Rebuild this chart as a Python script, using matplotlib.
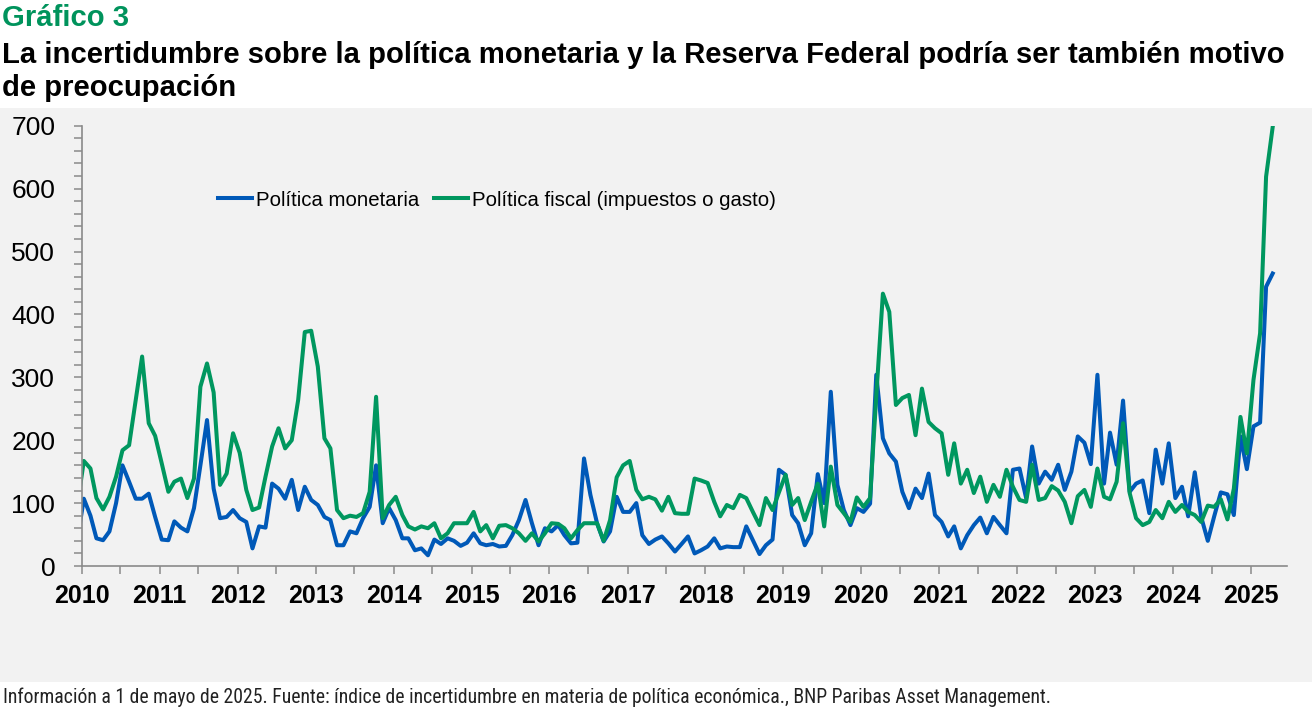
import matplotlib
matplotlib.use("Agg")
import matplotlib.pyplot as plt
import matplotlib.dates as mdates
from matplotlib import font_manager
from matplotlib.ticker import MultipleLocator
import pandas as pd

# ---------------- data (monthly, Dec 2009 - Apr 2025) ----------------
start_month = "2009-12-01"
politica_monetaria = [
    40,
    107, 80, 44, 41, 55, 100, 160, 134, 107, 107, 115, 78,
    42, 41, 71, 61, 55, 92, 160, 232, 123, 76, 78, 89,
    76, 70, 28, 63, 61, 131, 123, 107, 137, 89, 126, 105,
    97, 78, 73, 33, 33, 55, 52, 76, 94, 160, 68, 92,
    73, 44, 44, 25, 28, 17, 42, 35, 44, 40, 32, 37,
    52, 36, 33, 35, 31, 32, 49, 73, 105, 68, 33, 60,
    55, 65, 49, 36, 37, 171, 113, 68, 39, 55, 110, 86,
    86, 100, 49, 35, 42, 47, 36, 23, 35, 47, 20, 25,
    31, 44, 28, 31, 30, 30, 63, 41, 19, 33, 42, 153,
    145, 81, 68, 33, 52, 146, 100, 277, 129, 89, 65, 92,
    86, 99, 304, 203, 179, 166, 118, 92, 123, 108, 147, 81,
    70, 47, 63, 28, 49, 65, 77, 52, 78, 65, 52, 153,
    155, 108, 190, 131, 150, 137, 161, 121, 150, 206, 196, 162,
    304, 131, 212, 161, 263, 118, 131, 136, 84, 185, 131, 195,
    108, 126, 79, 149, 78, 40, 79, 117, 114, 81, 206, 154,
    222, 228, 444, 465,
]
politica_fiscal = [
    95,
    167, 155, 108, 90, 110, 142, 184, 192, 264, 333, 227, 207,
    163, 118, 134, 139, 108, 139, 285, 322, 276, 129, 147, 211,
    180, 121, 89, 93, 142, 190, 219, 187, 200, 264, 372, 374,
    317, 203, 187, 89, 76, 80, 78, 84, 118, 269, 76, 97,
    110, 81, 63, 58, 63, 60, 68, 44, 52, 68, 68, 68,
    86, 55, 65, 44, 64, 65, 60, 52, 40, 52, 39, 52,
    68, 67, 60, 44, 57, 68, 68, 68, 40, 73, 141, 160,
    167, 121, 106, 110, 106, 88, 110, 84, 83, 83, 139, 136,
    132, 102, 79, 97, 92, 113, 108, 86, 65, 108, 89, 117,
    145, 97, 108, 73, 102, 131, 63, 158, 97, 84, 70, 109,
    94, 108, 270, 433, 404, 256, 267, 272, 208, 282, 229, 219,
    211, 145, 195, 131, 153, 116, 142, 102, 129, 110, 153, 126,
    105, 102, 161, 105, 108, 127, 120, 102, 68, 111, 121, 94,
    155, 110, 106, 134, 227, 116, 76, 65, 70, 89, 76, 102,
    86, 97, 86, 81, 70, 96, 94, 106, 74, 123, 237, 179,
    296, 370, 619, 698,
]
series_labels = ["Política monetaria", "Política fiscal (impuestos o gasto)"]
y_ticks = [0, 100, 200, 300, 400, 500, 600, 700]

titulo_num = "Gráfico 3"
titulo = ["La incertidumbre sobre la política monetaria y la Reserva Federal podría ser también motivo",
          "de preocupación"]
fuente = ("Información a 1 de mayo de 2025. Fuente: índice de incertidumbre en materia de política "
          "económica., BNP Paribas Asset Management.")

dates = pd.date_range(start_month, periods=len(politica_monetaria), freq="MS") + pd.Timedelta(days=10)

# ---------------- fonts ----------------
available = {f.name for f in font_manager.fontManager.ttflist}
def pick(*names):
    for n in names:
        if n in available:
            return n
    return "DejaVu Sans"
f_main = pick("Liberation Sans", "Arial", "DejaVu Sans")
f_narrow = pick("Liberation Sans Narrow", "Roboto Condensed", "Liberation Sans")

BLUE = "#0059B8"
GREEN = "#00975F"
GREEN_T = "#00935C"
BG = "#F2F2F2"
AXC = "#8A8A8A"

W, H = 1312, 709
fig = plt.figure(figsize=(W / 100, H / 100), dpi=100)
fig.patch.set_facecolor("white")

# gray panel
fig.patches.append(plt.Rectangle((0, 1 - 682 / H), 1, (682 - 108) / H, transform=fig.transFigure,
                                 facecolor=BG, edgecolor="none", zorder=-5))

ax = fig.add_axes([81.7 / W, 1 - 566 / H, (1287 - 81.7) / W, (566 - 125.7) / H])
ax.set_facecolor("none")
ax.set_zorder(2)

ax.plot(dates, politica_monetaria, color=BLUE, lw=2.9, label=series_labels[0])
ax.plot(dates, politica_fiscal, color=GREEN, lw=2.9, label=series_labels[1])

ax.set_xlim(pd.Timestamp("2010-01-01"), pd.Timestamp("2025-06-17"))
ax.set_ylim(0, 700)

for s in ["top", "right"]:
    ax.spines[s].set_visible(False)
for s in ["left", "bottom"]:
    ax.spines[s].set_color(AXC)
    ax.spines[s].set_linewidth(1.2)

ax.set_yticks(y_ticks)
ax.yaxis.set_minor_locator(MultipleLocator(20))
ax.xaxis.set_major_locator(mdates.YearLocator())
ax.xaxis.set_minor_locator(mdates.MonthLocator(bymonth=[7]))
ax.xaxis.set_major_formatter(mdates.DateFormatter("%Y"))

ax.tick_params(axis="both", which="both", direction="out", length=6, width=1.1, color=AXC)
ax.tick_params(axis="y", which="major", pad=13, labelsize=19)
ax.tick_params(axis="x", which="major", pad=7, labelsize=18)
for lab in ax.get_yticklabels():
    lab.set_fontfamily(f_main)
for lab in ax.get_xticklabels():
    lab.set_fontfamily(f_main)
    lab.set_fontweight("bold")

leg = fig.legend(loc="center left", bbox_to_anchor=(218 / W, 1 - 200 / H), ncol=2, frameon=False,
                 prop={"family": f_main, "size": 14.7}, handlelength=1.65, handletextpad=0.2,
                 columnspacing=0.75, borderpad=0, borderaxespad=0)
leg.set_zorder(3)

# titles
t0 = fig.text(2 / W, 1 - 26 / H, titulo_num, color=GREEN_T, fontsize=21, fontweight="bold",
              family=f_main, va="baseline", ha="left")
t1 = fig.text(2 / W, 1 - 63 / H, titulo[0], color="black", fontsize=21, fontweight="bold",
              family=f_main, va="baseline", ha="left")
t2 = fig.text(2 / W, 1 - 96 / H, titulo[1], color="black", fontsize=21, fontweight="bold",
              family=f_main, va="baseline", ha="left")
t3 = fig.text(3 / W, 1 - 703 / H, fuente, color="#222222", fontsize=12, family=f_narrow,
              va="baseline", ha="left")

# fit widths to the reference
fig.canvas.draw()
r = fig.canvas.get_renderer()
for t, target in [(t1, 1283), (t3, 1049)]:
    w = t.get_window_extent(r).width
    t.set_fontsize(t.get_fontsize() * target / w)
t2.set_fontsize(t1.get_fontsize())
t0.set_fontsize(t1.get_fontsize())

fig.savefig("out.png", dpi=100, facecolor=fig.get_facecolor())
